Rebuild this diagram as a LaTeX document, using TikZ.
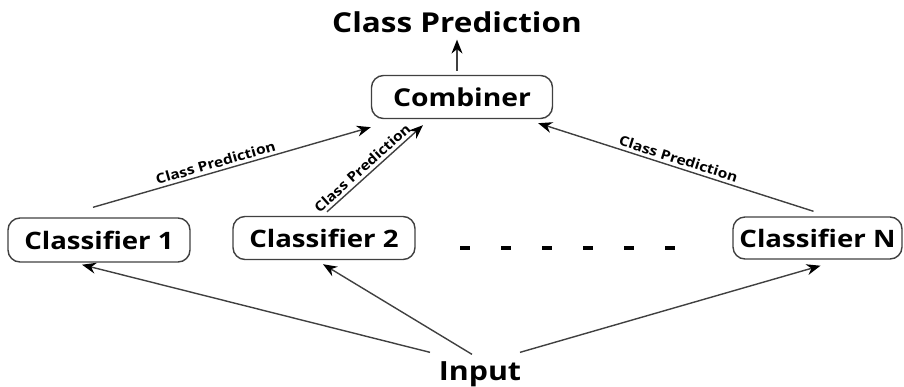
\documentclass[tikz,border=0pt]{standalone}
\usepackage{fontspec}
\setmainfont{Open Sans}[FakeStretch=1.15]
\usetikzlibrary{arrows.meta}

\begin{document}
\begin{tikzpicture}[x=0.5pt,y=-0.5pt,
    box/.style={draw=linegray, line width=0.7pt, rounded corners=6pt, inner sep=0pt},
    arr/.style={draw=linegray, line width=0.7pt, -{Stealth[length=7pt,width=5.5pt,color=black]}},
    lbl/.style={font=\fontsize{6.8}{8}\selectfont\bfseries, sloped, above, inner sep=1.5pt}]

                    % 色の設定
                    \definecolor{linegray}{rgb}{0.25, 0.25, 0.25}
                    \useasboundingbox (0,0) rectangle (904,386);

                    % 出力と結合器
                    \node (title) at (457,22) {\fontsize{13.7}{16}\selectfont\bfseries Class Prediction};
                    \node[box, minimum width=90.5pt, minimum height=21.5pt] (comb) at (462,97)
                        {\fontsize{12.3}{14}\selectfont\bfseries Combiner};

                    % 分類器
                    \node[box, minimum width=91pt, minimum height=22pt] (c1) at (99,240)
                        {\fontsize{12}{14}\selectfont\bfseries Classifier 1};
                    \node[box, minimum width=91pt, minimum height=21.5pt] (c2) at (324,238)
                        {\fontsize{12}{14}\selectfont\bfseries Classifier 2};
                    \node[box, minimum width=84.5pt, minimum height=21pt] (cN) at (817.5,238)
                        {\fontsize{12}{14}\selectfont\bfseries Classifier N};

                    % 入力
                    \node (input) at (480,374) {\fontsize{13.2}{15}\selectfont\bfseries Input};

                    % 省略の点線
                    \foreach \i in {0,...,5}
                        \draw[line width=2pt] ({460+41*\i},248) -- ++(10,0);

                    % 分類器から結合器へ
                    \draw[arr] ([shift={(-3pt,5pt)}]c1.north) -- node[lbl, pos=0.45] {Class Prediction}
                        ([yshift=-4pt]comb.south west);
                    \draw[arr] ([shift={(1.5pt,2pt)}]c2.north) -- node[lbl, pos=0.43] {Class Prediction}
                        ([shift={(-19.5pt,-3pt)}]comb.south);
                    \draw[arr] ([shift={(-2pt,2.5pt)}]cN.north) -- node[lbl, pos=0.5] {Class Prediction}
                        ([shift={(-7.5pt,-2pt)}]comb.south east);

                    % 結合器から出力へ
                    \draw[arr, shorten <=2pt] (title.south |- comb.north) -- (title.south);

                    % 入力から分類器へ
                    \draw[arr] ([shift={(-25pt,1pt)}]input.north) -- ([shift={(-8.5pt,-1pt)}]c1.south);
                    \draw[arr] ([shift={(-4pt,0pt)}]input.north) -- ([shift={(-0.5pt,-2pt)}]c2.south);
                    \draw[arr] ([shift={(20pt,1pt)}]input.north) -- ([shift={(1.5pt,-3pt)}]cN.south);

\end{tikzpicture}
\end{document}
